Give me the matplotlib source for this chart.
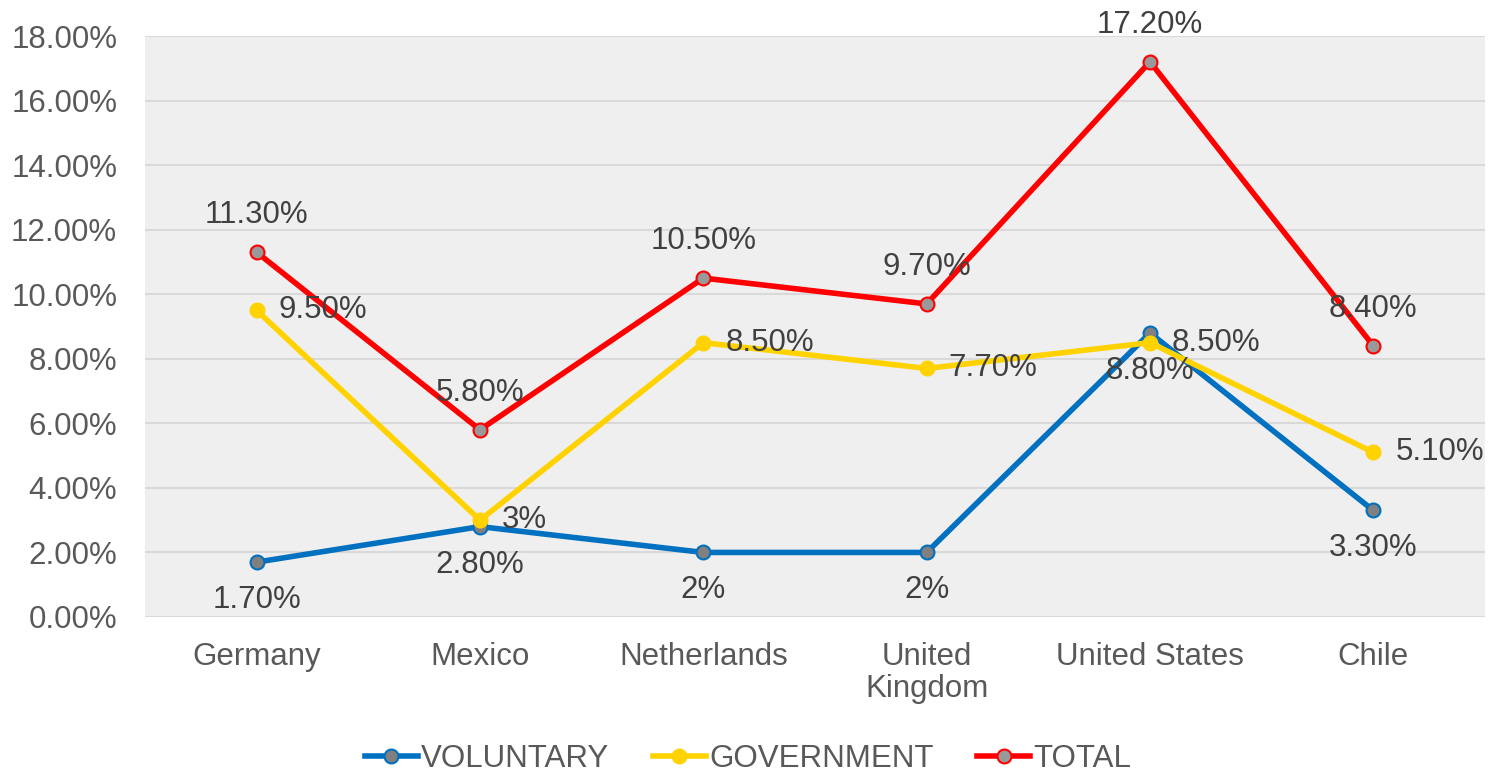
import matplotlib.pyplot as plt
import numpy as np

plt.rcParams['font.family'] = ['Liberation Sans', 'DejaVu Sans']

countries = ["Germany", "Mexico", "Netherlands", "United\nKingdom", "United States", "Chile"]
voluntary = [1.7, 2.8, 2.0, 2.0, 8.8, 3.3]
government = [9.5, 3.0, 8.5, 7.7, 8.5, 5.1]
total = [11.3, 5.8, 10.5, 9.7, 17.2, 8.4]
vol_labels = ["1.70%", "2.80%", "2%", "2%", "8.80%", "3.30%"]
gov_labels = ["9.50%", "3%", "8.50%", "7.70%", "8.50%", "5.10%"]
tot_labels = ["11.30%", "5.80%", "10.50%", "9.70%", "17.20%", "8.40%"]
yticks = np.arange(0, 20, 2)

fig = plt.figure(figsize=(14.89, 7.73), dpi=100)
ax = fig.add_axes([145 / 1489, 1 - 617 / 773, 1340 / 1489, 581 / 773])
ax.set_facecolor('#efefef')

x = np.arange(len(countries))
ax.plot(x, voluntary, color='#0070c0', lw=4, marker='o', ms=10,
        mfc='#808080', mec='#0070c0', mew=1.5, label='VOLUNTARY', zorder=3)
ax.plot(x, government, color='#ffd200', lw=4, marker='o', ms=10,
        mfc='#ffd200', mec='#ffd200', mew=1.5, label='GOVERNMENT', zorder=4)
ax.plot(x, total, color='#ff0000', lw=4, marker='o', ms=10,
        mfc='#999999', mec='#ff0000', mew=1.5, label='TOTAL', zorder=5)

tc = '#404040'
fs = 22.5
for i in x:
    ax.annotate(vol_labels[i], (i, voluntary[i]), xytext=(0, -38), textcoords='offset pixels',
                ha='center', va='center', fontsize=fs, color=tc, zorder=6)
    ax.annotate(gov_labels[i], (i, government[i]), xytext=(22, 0), textcoords='offset pixels',
                ha='left', va='center', fontsize=fs, color=tc, zorder=6)
    ax.annotate(tot_labels[i], (i, total[i]), xytext=(0, 37), textcoords='offset pixels',
                ha='center', va='center', fontsize=fs, color=tc, zorder=6)

ax.set_xlim(-0.5, len(countries) - 0.5)
ax.set_ylim(0, 18)
ax.set_yticks(yticks)
ax.set_yticklabels([f"{v:.2f}%" for v in yticks])
ax.set_xticks(x)
ax.set_xticklabels(countries)
ax.grid(axis='y', color='#d9d9d9', lw=1.5)
ax.set_axisbelow(True)
for s in ax.spines.values():
    s.set_visible(False)
ax.tick_params(length=0, labelsize=fs, colors='#595959')
ax.tick_params(axis='y', pad=20)
ax.tick_params(axis='x', pad=18)
for lbl in ax.get_xticklabels():
    lbl.set_linespacing(1.1)
    lbl.set_va('top')

ax.legend(loc='center', bbox_to_anchor=(0.45, -0.244), ncol=3, frameon=False,
          fontsize=fs, labelcolor='#595959', handlelength=1.7, columnspacing=1.4, handletextpad=0.1,
          borderpad=0.1)

fig.savefig('out.png', dpi=100)
